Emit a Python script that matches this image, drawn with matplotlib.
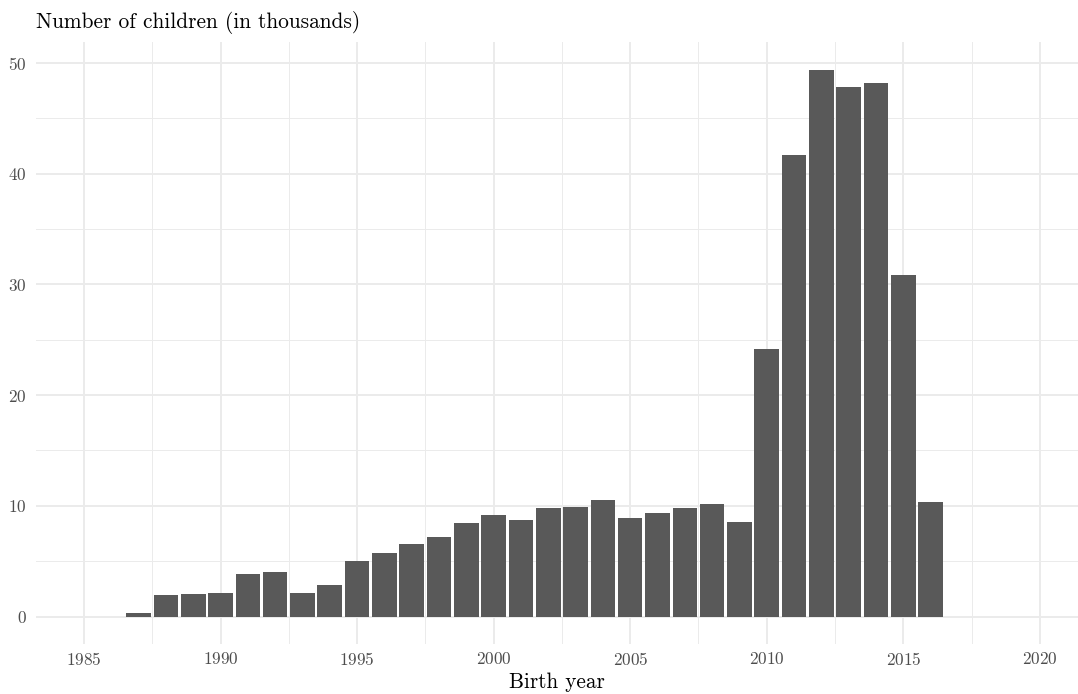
import matplotlib
matplotlib.use("Agg")
import matplotlib.pyplot as plt
from matplotlib.ticker import MultipleLocator

# births per year, in thousands
years = list(range(1987, 2017))
children = [0.33, 1.96, 2.07, 2.17, 3.86, 4.03, 2.17, 2.86, 5.02, 5.74,
            6.56, 7.2, 8.46, 9.18, 8.73, 9.83, 9.93, 10.56, 8.91, 9.36,
            9.83, 10.2, 8.55, 24.2, 41.7, 49.37, 47.8, 48.2, 30.87, 10.38]
x_ticks = [1985, 1990, 1995, 2000, 2005, 2010, 2015, 2020]
y_ticks = [0, 10, 20, 30, 40, 50]

plt.rcParams["font.family"] = ["cmr10", "DejaVu Serif"]
plt.rcParams["axes.formatter.use_mathtext"] = True

W, H = 1078, 694
fig = plt.figure(figsize=(W / 100, H / 100), dpi=100)
ax = fig.add_axes([36.2 / W, 50 / H, (W - 36.2) / W, (644 - 42) / H])

ax.bar(years, children, width=0.9, color="#595959", zorder=3)

ax.set_xlim(1983.25, 1985 + (W - 84) / 27.31)
ax.set_ylim(-2.47, 51.87)
ax.set_xticks(x_ticks)
ax.set_yticks(y_ticks)
ax.xaxis.set_minor_locator(MultipleLocator(2.5))
ax.yaxis.set_minor_locator(MultipleLocator(5))

ax.grid(which="major", color="#EBEBEB", linewidth=1.4, zorder=0)
ax.grid(which="minor", color="#EBEBEB", linewidth=0.7, zorder=0)
ax.set_axisbelow(True)
for s in ax.spines.values():
    s.set_visible(False)
ax.tick_params(which="both", length=0, labelsize=12.3, labelcolor="#4D4D4D")
ax.tick_params(axis="x", pad=5)
ax.tick_params(axis="y", pad=7)

ax.set_xlabel("Birth year", fontsize=15.3, labelpad=3)
fig.text(36.2 / W, 1 - 11 / H, "Number of children (in thousands)",
         fontsize=15.4, ha="left", va="top")

fig.savefig("out.png", dpi=100)
